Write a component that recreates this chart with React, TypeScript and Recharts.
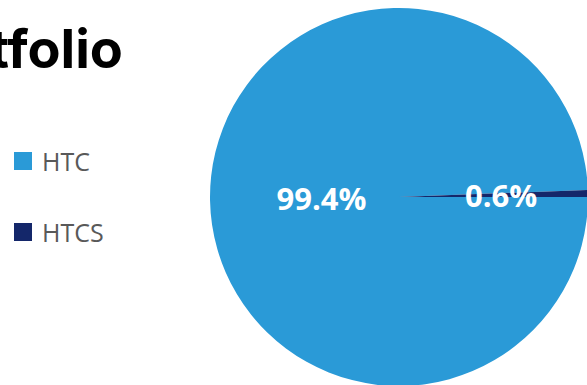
import React from 'react';
import { PieChart, Pie, Cell } from 'recharts';

const categories = ['HTC', 'HTCS'];
const values = [99.4, 0.6];
const colors = ['#2A9AD7', '#14276A'];
const titleText = 'Portfolio';

const data = categories.map((name, i) => ({ name, value: values[i] }));

const RAD = Math.PI / 180;
const labelRadiusFactor = [0.41, 0.54];

const renderLabel = (props: any) => {
  const { cx, cy, midAngle, outerRadius, percent, index } = props;
  const r = outerRadius * labelRadiusFactor[index];
  const x = cx + r * Math.cos(-midAngle * RAD);
  const y = cy + r * Math.sin(-midAngle * RAD);
  return (
    <text
      x={x}
      y={y}
      fill="#FFFFFF"
      textAnchor="middle"
      dominantBaseline="central"
      style={{ fontFamily: '"Open Sans", sans-serif', fontWeight: 700, fontSize: 31 }}
    >
      {`${(percent * 100).toFixed(1)}%`}
    </text>
  );
};

export default function App() {
  return (
    <div style={{ position: 'absolute', left: 0, top: 0, width: 587, height: 385, overflow: 'hidden', background: '#fff' }}>
      <PieChart width={587} height={385} margin={{ top: 0, right: 0, bottom: 0, left: 0 }}>
        <Pie
          data={data}
          dataKey="value"
          nameKey="name"
          cx={399}
          cy={197}
          outerRadius={189}
          startAngle={0}
          endAngle={-360}
          stroke="none"
          label={renderLabel}
          labelLine={false}
          isAnimationActive={false}
        >
          {data.map((d, i) => (
            <Cell key={d.name} fill={colors[i]} />
          ))}
        </Pie>
      </PieChart>
      <div style={{ position: 'absolute', left: 14, top: 143 }}>
        {categories.map((name, i) => (
          <div key={name} style={{ display: 'flex', alignItems: 'center', height: 36, marginBottom: 35 }}>
            <div style={{ width: 18, height: 18, background: colors[i], marginRight: 10 }} />
            <span style={{ fontFamily: '"Open Sans", sans-serif', fontSize: 25, color: '#595959' }}>{name}</span>
          </div>
        ))}
      </div>
      <svg width={587} height={100} style={{ position: 'absolute', left: 0, top: 0, pointerEvents: 'none' }}>
        <text
          x={123}
          y={68}
          textAnchor="end"
          style={{ fontFamily: 'Inter, sans-serif', fontWeight: 700, fontSize: 54, fill: '#000' }}
        >
          {titleText}
        </text>
      </svg>
    </div>
  );
}
